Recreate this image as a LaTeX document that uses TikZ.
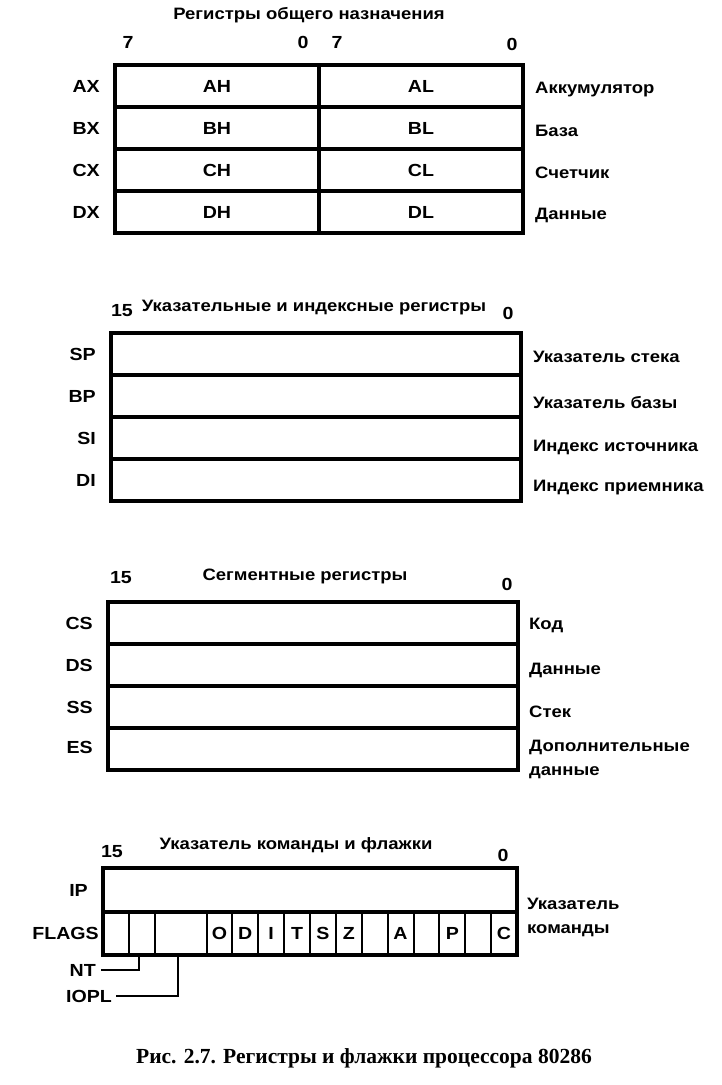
\documentclass[tikz,border=0pt]{standalone}
\usepackage{fontspec}
\setmainfont{Liberation Sans}[FakeStretch=1.12]
\newfontfamily\capfont{Liberation Serif}
\usetikzlibrary{positioning}
\tikzset{
  regrow/.style={rectangle,draw=black,line width=4pt,minimum width=410pt,minimum height=42pt,inner sep=0pt,outer sep=0pt},
  halfrow/.style={regrow,minimum width=204pt,font=\bfseries\fontsize{17.5}{20}\selectfont},
  flagbit/.style={rectangle,draw=black,line width=2pt,minimum width=25.875pt,minimum height=43pt,inner sep=0pt,outer sep=0pt,font=\bfseries\fontsize{17.5}{20}\selectfont},
  reglbl/.style={font=\bfseries\fontsize{17.5}{20}\selectfont,anchor=east,inner sep=0pt},
  notelbl/.style={font=\bfseries\fontsize{16.5}{24}\selectfont,anchor=west,inner sep=0pt,align=left},
  bitno/.style={font=\bfseries\fontsize{17.5}{20}\selectfont,inner sep=0pt},
  headlbl/.style={font=\bfseries\fontsize{16.5}{19}\selectfont,inner sep=0pt},
  lead/.style={line width=2pt}
}
\begin{document}
\begin{tikzpicture}[x=1pt,y=-1pt]
  \useasboundingbox (0,0) rectangle (721,1085);
  % general registers
  \node[headlbl] (gptitle) at (309,15) {Регистры общего назначения};
  \node[bitno] (gp7a) at (128,42) {7};
  \node[bitno] (gp0a) at (303,42) {0};
  \node[bitno] (gp7b) at (337,42) {7};
  \node[bitno] (gp0b) at (512,44) {0};
  \node[halfrow] (ah) at (217,86) {AH};
  \node[halfrow,right=0pt of ah] (al) {AL};
  \node[halfrow,below=0pt of ah] (bh) {BH};
  \node[halfrow,right=0pt of bh] (bl) {BL};
  \node[halfrow,below=0pt of bh] (ch) {CH};
  \node[halfrow,right=0pt of ch] (cl) {CL};
  \node[halfrow,below=0pt of ch] (dh) {DH};
  \node[halfrow,right=0pt of dh] (dl) {DL};
  \node[reglbl,left=15pt of ah] (ax) {AX};
  \node[reglbl,left=15pt of bh] (bx) {BX};
  \node[reglbl,left=15pt of ch] (cx) {CX};
  \node[reglbl,left=15pt of dh] (dx) {DX};
  \node[notelbl,right=12pt of al,yshift=-4pt] (accum) {Аккумулятор};
  \node[notelbl,right=12pt of bl,yshift=-3pt] (base) {База};
  \node[notelbl,right=12pt of cl,yshift=-3pt] (count) {Счетчик};
  \node[notelbl,right=12pt of dl,yshift=-3pt] (data) {Данные};

  % pointer and index registers
  \node[bitno] (pi15) at (122,311) {15};
  \node[headlbl] (pititle) at (314,308) {Указательные и индексные регистры};
  \node[bitno] (pi0) at (508,313) {0};
  \node[regrow] (sp) at (316,354) {};
  \node[regrow,below=0pt of sp] (bp) {};
  \node[regrow,below=0pt of bp] (si) {};
  \node[regrow,below=0pt of si] (di) {};
  \node[reglbl,left=15pt of sp] (splbl) {SP};
  \node[reglbl,left=15pt of bp] (bplbl) {BP};
  \node[reglbl,left=15pt of si] (silbl) {SI};
  \node[reglbl,left=15pt of di] (dilbl) {DI};
  \node[notelbl] (spnote) at (533,357) {Указатель стека};
  \node[notelbl] (bpnote) at (533,403) {Указатель базы};
  \node[notelbl] (sinote) at (533,447) {Индекс источника};
  \node[notelbl] (dinote) at (533,488) {Индекс приемника};

  % segment registers
  \node[bitno] (sg15) at (121,578) {15};
  \node[headlbl] (sgtitle) at (305,576) {Сегментные регистры};
  \node[bitno] (sg0) at (507,584) {0};
  \node[regrow] (cs) at (313,623) {};
  \node[regrow,below=0pt of cs] (ds) {};
  \node[regrow,below=0pt of ds] (ss) {};
  \node[regrow,below=0pt of ss] (es) {};
  \node[reglbl,left=15pt of cs] (cslbl) {CS};
  \node[reglbl,left=15pt of ds] (dslbl) {DS};
  \node[reglbl,left=15pt of ss] (sslbl) {SS};
  \node[reglbl,left=15pt of es,yshift=2pt] (eslbl) {ES};
  \node[notelbl] (csnote) at (529,625) {Код};
  \node[notelbl] (dsnote) at (529,670) {Данные};
  \node[notelbl] (ssnote) at (529,712) {Стек};
  \node[notelbl] (esnote) at (529,759) {Дополнительные\\данные};

  % instruction pointer and flags
  \node[bitno] (ip15) at (112,852) {15};
  \node[headlbl] (iptitle) at (296,845) {Указатель команды и флажки};
  \node[bitno] (ip0) at (503,855) {0};
  \node[regrow,minimum width=414pt,minimum height=44pt] (ip) at (310,890) {};
  \node[flagbit] (f15) at (115.94,933.5) {};
  \node[flagbit,right=0pt of f15] (fnt) {};
  \node[flagbit,right=0pt of fnt,minimum width=51.75pt] (fiopl) {};
  \node[flagbit,right=0pt of fiopl] (fo) {O};
  \node[flagbit,right=0pt of fo] (fd) {D};
  \node[flagbit,right=0pt of fd] (fi) {I};
  \node[flagbit,right=0pt of fi] (ft) {T};
  \node[flagbit,right=0pt of ft] (fs) {S};
  \node[flagbit,right=0pt of fs] (fz) {Z};
  \node[flagbit,right=0pt of fz] (f5) {};
  \node[flagbit,right=0pt of f5] (fa) {A};
  \node[flagbit,right=0pt of fa] (f3) {};
  \node[flagbit,right=0pt of f3] (fp) {P};
  \node[flagbit,right=0pt of fp] (f1) {};
  \node[flagbit,right=0pt of f1] (fc) {C};
  \draw[line width=4pt] (f15.north west) rectangle (fc.south east);
  \node[reglbl,left=15pt of ip] (iplbl) {IP};
  \node[reglbl,left=4pt of f15] (flagslbl) {FLAGS};
  \node[notelbl,align=left] (ipnote) at (527,917) {Указатель\\команды};
  \node[reglbl] (ntlbl) at (96,970) {NT};
  \node[reglbl] (iopllbl) at (112,996) {IOPL};
  \draw[lead] (fnt.south) ++(-3,0) |- ([xshift=5pt]ntlbl.east);
  \draw[lead] (fiopl.south) ++(-3,0) |- ([xshift=4pt]iopllbl.east);

  % caption
  \node[font=\capfont\bfseries\fontsize{21.5}{24}\selectfont,inner sep=0pt] (caption) at (364,1058)
    {Рис. 2.7. Регистры и флажки процессора 80286};
\end{tikzpicture}
\end{document}
